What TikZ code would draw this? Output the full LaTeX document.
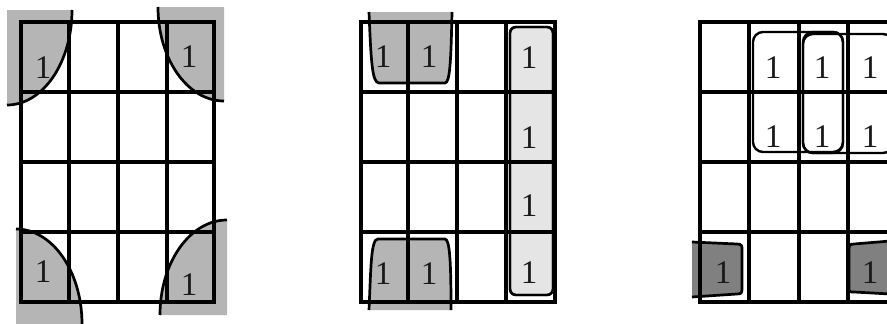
\documentclass[tikz,border=0pt]{standalone}
\usepackage{fontspec}
\setmainfont{Liberation Serif}
\begin{document}
\begin{tikzpicture}[x=1pt,y=-1pt,
  gridline/.style={line width=3.2pt},
  arcline/.style={line width=2.7pt},
  grp/.style={line width=2.4pt, rounded corners=10pt},
  one/.style={font=\fontsize{33}{33}\selectfont, inner sep=0pt, text=black!90},
  midgray/.style={fill=black!29},
  lightgray/.style={fill=black!10},
  darkgray/.style={fill=black!50},
  ]
\useasboundingbox (0,0) rectangle (887,324);

% ---------- Map 1 ----------
\fill[midgray] (7,10) -- (72,10) .. controls (72,62.5) and (42.9,105) .. (7,105) -- cycle;
\fill[midgray] (224,7) -- (158,7) .. controls (158,58.9) and (187.5,101) .. (224,101) -- cycle;
\fill[midgray] (16,324) -- (16,229) .. controls (52.5,229) and (82,271.5) .. (82,324) -- cycle;
\fill[midgray] (227,315) -- (160,315) .. controls (160,262.5) and (190,220) .. (227,220) -- cycle;
\foreach \x in {69,118,167} \draw[gridline] (\x,22) -- (\x,302);
\foreach \y in {92,162,232} \draw[gridline] (21,\y) -- (214,\y);
\draw[gridline] (21,22) rectangle (214,302);
\draw[arcline] (72,10) .. controls (72,62.5) and (42.9,105) .. (7,105);
\draw[arcline] (158,7) .. controls (158,58.9) and (187.5,101) .. (224,101);
\draw[arcline] (16,229) .. controls (52.5,229) and (82,271.5) .. (82,324);
\draw[arcline] (160,315) .. controls (160,262.5) and (190,220) .. (227,220);
\node[one] (a1) at (43,68) {1};
\node[one] (a2) at (189,57) {1};
\node[one] (a3) at (43,272) {1};
\node[one] (a4) at (189,285) {1};

% ---------- Map 2 ----------
\fill[midgray] (369,12) .. controls (371,60) and (372,83) .. (379,83) -- (445,83) .. controls (450,83) and (451,60) .. (452,12) -- cycle;
\fill[midgray] (369,310) .. controls (371,265) and (371,239) .. (378,239) -- (445,239) .. controls (450,239) and (451,265) .. (451,310) -- cycle;
\draw[grp, rounded corners=6pt, lightgray] (510,27) rectangle (553,295);
\foreach \x in {408,457,506} \draw[gridline] (\x,22) -- (\x,302);
\foreach \y in {92,162,232} \draw[gridline] (361,\y) -- (555,\y);
\draw[gridline] (361,22) rectangle (555,302);
\draw[arcline] (369,12) .. controls (371,60) and (372,83) .. (379,83) -- (445,83) .. controls (450,83) and (451,60) .. (452,12);
\draw[arcline] (369,310) .. controls (371,265) and (371,239) .. (378,239) -- (445,239) .. controls (450,239) and (451,265) .. (451,310);
\draw[grp, rounded corners=6pt] (510,27) rectangle (553,295);
\node[one] (b1) at (383,57) {1};
\node[one] (b2) at (429,57) {1};
\node[one] (b3) at (529,58) {1};
\node[one] (b4) at (529,138) {1};
\node[one] (b5) at (529,206) {1};
\node[one] (b6) at (529,273) {1};
\node[one] (b7) at (383,274) {1};
\node[one] (b8) at (429,274) {1};

% ---------- Map 3 ----------
\fill[darkgray] (692,242) -- (737,244) .. controls (742,244) and (742,246) .. (742,250) -- (742,289) .. controls (742,293) and (741,294) .. (737,294) -- (692,297) -- cycle;
\fill[darkgray] (890,241) -- (854,244) .. controls (849,244) and (849,246) .. (849,250) -- (849,288) .. controls (849,292) and (850,292) .. (854,292) -- (890,294) -- cycle;
\foreach \x in {749,799,848} \draw[gridline] (\x,22) -- (\x,302);
\foreach \y in {92,162,232} \draw[gridline] (700,\y) -- (897,\y);
\draw[gridline] (700,22) rectangle (897,302);
\draw[arcline] (692,242) -- (737,244) .. controls (742,244) and (742,246) .. (742,250) -- (742,289) .. controls (742,293) and (741,294) .. (737,294) -- (692,297);
\draw[arcline] (890,241) -- (854,244) .. controls (849,244) and (849,246) .. (849,250) -- (849,288) .. controls (849,292) and (850,292) .. (854,292) -- (890,294);
\draw[grp] (753,32) rectangle (843,152);
\draw[grp] (803,32) rectangle (843,153);
\draw[grp] (803,34) rectangle (893,153);
\node[one] (c1) at (773,68) {1};
\node[one] (c2) at (822,68) {1};
\node[one] (c3) at (870,68) {1};
\node[one] (c4) at (773,137) {1};
\node[one] (c5) at (822,137) {1};
\node[one] (c6) at (870,137) {1};
\node[one] (c7) at (723,273) {1};
\node[one] (c8) at (870,273) {1};
\end{tikzpicture}
\end{document}
